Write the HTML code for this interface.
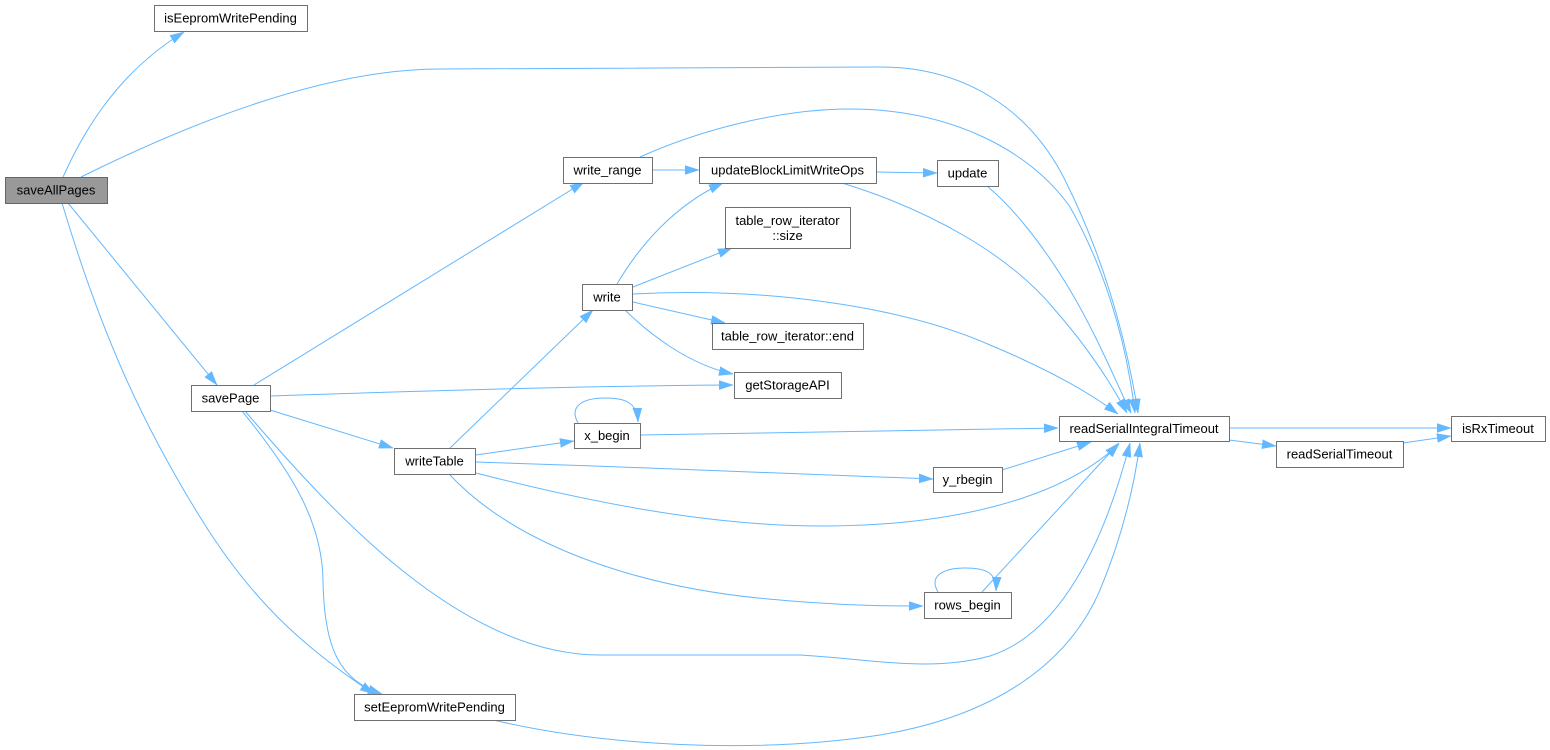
<!DOCTYPE html>
<html>
<head>
<meta charset="utf-8">
<style>
  html, body { margin: 0; padding: 0; background: #ffffff; }
  svg { display: block; }
  text { font-family: "Liberation Sans", Arial, sans-serif; font-size: 13px; fill: #000; }
  .n { fill: #ffffff; stroke: #707070; stroke-width: 1; }
  .r { fill: #999999; stroke: #666666; stroke-width: 1; }
  .e { fill: none; stroke: #63b8ff; stroke-width: 1; marker-end: url(#ah); }
</style>
</head>
<body>
<svg width="1550" height="750" viewBox="0 0 1550 750" xmlns="http://www.w3.org/2000/svg">
  <defs>
    <marker id="ah" markerUnits="userSpaceOnUse" markerWidth="14" markerHeight="10" viewBox="0 0 14 10" refX="14" refY="5" orient="auto">
      <path d="M0,0.5 L14,5 L0,9.5 z" fill="#63b8ff" stroke="#63b8ff" stroke-width="0.5"/>
    </marker>
  </defs>

  <!-- Edges -->
  <path class="e" d="M63,177 C 80,140 112,76 184,32"/>
  <path class="e" d="M81,177 C 180,128 320,69 440,69 L 880,67 C 965,67 1030,110 1065,180 C 1100,250 1125,330 1138,413"/>
  <path class="e" d="M68,203 L217,385"/>
  <path class="e" d="M62,203 C 100,330 140,420 200,517 C 250,598 300,645 374,694"/>

  <path class="e" d="M254,385 L584,182"/>
  <path class="e" d="M270,396 C 420,391 580,386 733,385"/>
  <path class="e" d="M270,410 L393,448"/>
  <path class="e" d="M242,411 C 290,470 322,520 323,580 C 324,650 340,680 382,694"/>
  <path class="e" d="M245,411 C 330,510 460,655 600,655 L 800,655 C 880,660 930,672 990,656 C 1070,630 1110,520 1130,443"/>

  <path class="e" d="M652,170 L699,170"/>
  <path class="e" d="M640,157 C 700,130 780,109 850,109 C 950,109 1030,150 1070,207 C 1100,260 1125,330 1135,413"/>

  <path class="e" d="M876,172 L937,173"/>
  <path class="e" d="M842,183 C 930,210 1010,255 1055,310 C 1090,350 1112,385 1127,413"/>
  <path class="e" d="M987,186 C 1010,205 1040,240 1070,290 C 1095,332 1113,375 1131,413"/>

  <path class="e" d="M617,284 C 640,245 675,205 723,183"/>
  <path class="e" d="M633,287 L732,248"/>
  <path class="e" d="M633,302 L725,323"/>
  <path class="e" d="M624,309 C 650,335 690,365 733,374"/>
  <path class="e" d="M633,294 C 760,287 900,305 990,345 C 1050,370 1090,393 1118,414"/>

  <path class="e" d="M450,448 L593,310"/>
  <path class="e" d="M476,455 L574,441"/>
  <path class="e" d="M476,462 C 630,467 790,473 933,479"/>
  <path class="e" d="M476,473 C 600,505 720,527 830,526 C 950,525 1060,500 1119,444"/>
  <path class="e" d="M449,474 C 520,550 650,590 780,600 C 850,606 890,606 923,606"/>

  <path class="e" d="M578,423 C 568,405 585,398 605,398 C 625,398 637,402 638,422"/>
  <path class="e" d="M640,435 L1058,428"/>

  <path class="e" d="M1002,470 L1091,442"/>

  <path class="e" d="M938,592 C 928,575 945,568 965,568 C 985,568 997,572 996,591"/>
  <path class="e" d="M982,592 L1119,443"/>

  <path class="e" d="M493,720 C 600,745 750,755 880,735 C 1000,715 1070,660 1100,590 C 1125,530 1135,480 1140,443"/>

  <path class="e" d="M1229,428 L1451,428"/>
  <path class="e" d="M1229,440 L1276,446"/>
  <path class="e" d="M1403,443 L1451,436"/>

  <!-- Nodes -->
  <rect class="r" x="5.5" y="177.5" width="102" height="26"/>
  <text x="56" y="194.5" text-anchor="middle">saveAllPages</text>

  <rect class="n" x="154.5" y="5.5" width="153" height="26"/>
  <text x="230.5" y="22.5" text-anchor="middle">isEepromWritePending</text>

  <rect class="n" x="563.5" y="157.5" width="89" height="26"/>
  <text x="607.5" y="174.5" text-anchor="middle">write_range</text>

  <rect class="n" x="699.5" y="157.5" width="177" height="26"/>
  <text x="787.5" y="174.5" text-anchor="middle">updateBlockLimitWriteOps</text>

  <rect class="n" x="937.5" y="160.5" width="61" height="26"/>
  <text x="967.5" y="177.5" text-anchor="middle">update</text>

  <rect class="n" x="725.5" y="207.5" width="125" height="41"/>
  <text x="787.5" y="225" text-anchor="middle">table_row_iterator</text>
  <text x="787.5" y="240" text-anchor="middle">::size</text>

  <rect class="n" x="582.5" y="284.5" width="50" height="26"/>
  <text x="607" y="301.5" text-anchor="middle">write</text>

  <rect class="n" x="712.5" y="323.5" width="151" height="26"/>
  <text x="787.5" y="340.5" text-anchor="middle">table_row_iterator::end</text>

  <rect class="n" x="734.5" y="372.5" width="107" height="26"/>
  <text x="787.5" y="389.5" text-anchor="middle">getStorageAPI</text>

  <rect class="n" x="191.5" y="385.5" width="79" height="26"/>
  <text x="230.5" y="402.5" text-anchor="middle">savePage</text>

  <rect class="n" x="1059.5" y="416.5" width="170" height="25"/>
  <text x="1144" y="433" text-anchor="middle">readSerialIntegralTimeout</text>

  <rect class="n" x="1451.5" y="416.5" width="94" height="25"/>
  <text x="1498" y="433" text-anchor="middle">isRxTimeout</text>

  <rect class="n" x="574.5" y="423.5" width="66" height="25"/>
  <text x="607" y="440" text-anchor="middle">x_begin</text>

  <rect class="n" x="394.5" y="448.5" width="81" height="26"/>
  <text x="434.5" y="465.5" text-anchor="middle">writeTable</text>

  <rect class="n" x="1276.5" y="441.5" width="127" height="26"/>
  <text x="1339.5" y="458.5" text-anchor="middle">readSerialTimeout</text>

  <rect class="n" x="933.5" y="467.5" width="69" height="25"/>
  <text x="967.5" y="484" text-anchor="middle">y_rbegin</text>

  <rect class="n" x="924.5" y="592.5" width="87" height="26"/>
  <text x="967.5" y="609.5" text-anchor="middle">rows_begin</text>

  <rect class="n" x="354.5" y="694.5" width="161" height="26"/>
  <text x="434.5" y="711.5" text-anchor="middle">setEepromWritePending</text>
</svg>
</body>
</html>
